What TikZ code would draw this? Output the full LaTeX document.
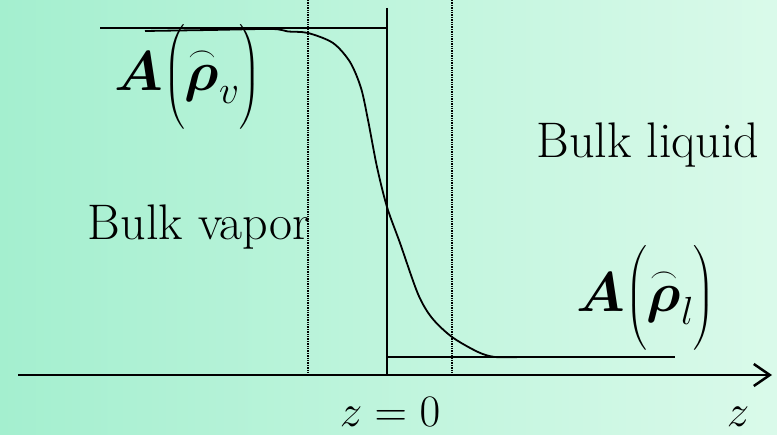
\RequirePackage{fix-cm}
\documentclass[tikz,border=0pt]{standalone}
\usepackage{amsmath,bm}
\usetikzlibrary{arrows.meta,positioning,backgrounds}
\definecolor{bgleft}  {RGB}{164,239,207}
\definecolor{bgright} {RGB}{218,250,234}

\begin{document}
\begin{tikzpicture}[x=1pt, y=-1pt,
          level/.style={line width=2.5pt},
          guide/.style={densely dotted,line width=1.4pt},
          profile/.style={line width=1.8pt},
          axis/.style={line width=2.5pt,-{Straight Barb[length=16pt,width=22pt]}},
          txt/.style={font=\fontsize{50}{56}\selectfont,inner sep=0pt},
          eqn/.style={font=\fontsize{45}{50}\selectfont,inner sep=0pt},
          frm/.style={font=\fontsize{56}{62}\selectfont,inner sep=0pt}
      ]
        \shade[left color=bgleft,right color=bgright] (0,0) rectangle (777,435);
        \useasboundingbox (0,0) rectangle (777,435);
        % reference points
        \coordinate (axL)  at (18,375);  \coordinate (axR)  at (772,375);
        \coordinate (wT)   at (387,8);   \coordinate (wB)   at (387,375);
        \coordinate (topL) at (100,28);  \coordinate (topR) at (387,28);
        \coordinate (botL) at (387,357); \coordinate (botR) at (675,357);
        \coordinate (d1T)  at (308,0);   \coordinate (d1B)  at (308,375);
        \coordinate (d2T)  at (452,0);   \coordinate (d2B)  at (452,375);
        \draw[guide] (d1T)--(d1B);
        \draw[guide] (d2T)--(d2B);
        \draw[level] (topL)--(topR);
        \draw[level] (botL)--(botR);
        \draw[level] (wT)--(wB);
        \draw[axis]  (axL)--(axR);
        % density profile
        \draw[profile] plot[smooth,tension=0.5] coordinates {(145,31) (210,30) (272,29) (288,31.5) (308,33)
              (333,43) (350,62) (361,88) (368,120) (377,167) (387,207) (400,243) (418,294)
              (432,318) (452,337) (478,352) (495,357) (520,357)};
        \node[txt,anchor=base] (vapor)  at (199,240) {Bulk vapor};
        \node[txt,anchor=base] (liquid) at (648,158) {Bulk liquid};
        \node[frm] (Av) at (188,77)  {$\boldsymbol{A}\Bigl(\overset{\scriptscriptstyle\frown}{\boldsymbol{\rho}}_{v}\Bigr)$};
        \node[frm] (Al) at (646,298) {$\boldsymbol{A}\Bigl(\overset{\scriptscriptstyle\frown}{\boldsymbol{\rho}}_{l}\Bigr)$};
        \node[eqn,anchor=base] (zzero) at (390,427) {$z = 0$};
        \node[eqn,anchor=base] (zlab)  at (738,427) {$z$};
      \end{tikzpicture}
\end{document}
